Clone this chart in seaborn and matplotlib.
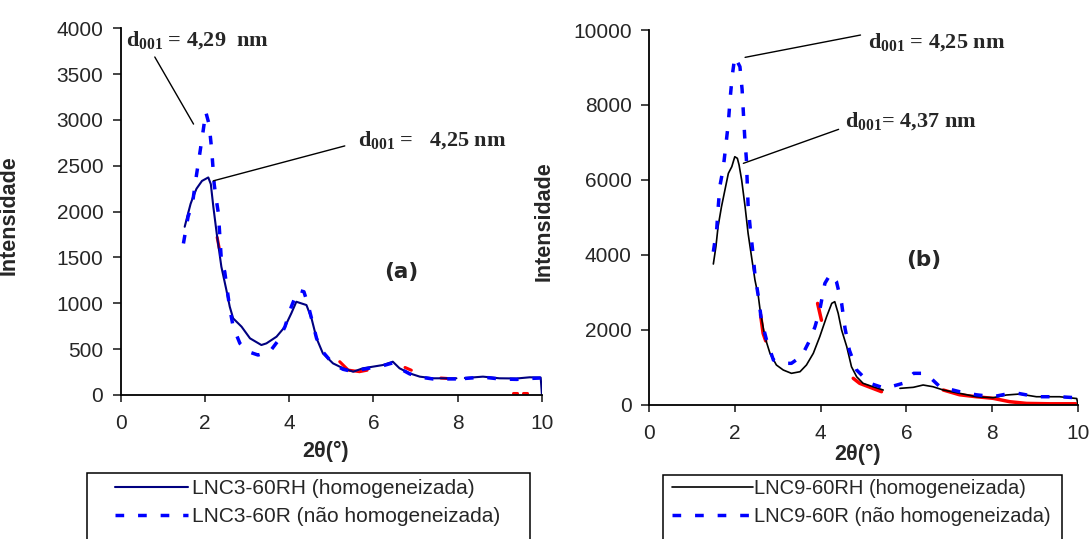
import matplotlib
matplotlib.use("Agg")
import pandas as pd
import matplotlib.pyplot as plt
from matplotlib.lines import Line2D
from matplotlib.patches import Rectangle
import seaborn as sns

# ---------------- panel (a) : LNC3 ----------------
a_rh_x = [1.52, 1.60, 1.66, 1.72, 1.80, 1.93, 2.08, 2.14, 2.20, 2.28, 2.39, 2.51, 2.59, 2.67, 2.87,
          3.07, 3.34, 3.46, 3.70, 3.90, 4.05, 4.17, 4.29, 4.41, 4.53, 4.65, 4.80, 5.04, 5.28, 5.52,
          5.75, 5.99, 6.23, 6.46, 6.62, 6.86, 7.10, 7.41, 7.97, 8.17, 8.60, 8.99, 9.40, 9.71, 9.97, 10.0]
a_rh_y = [1835, 1980, 2085, 2160, 2250, 2335, 2373, 2300, 2052, 1762, 1400, 1144, 962, 836, 745,
          618, 545, 563, 636, 745, 890, 1017, 999, 981, 836, 618, 454, 345, 291, 254,
          291, 309, 327, 363, 291, 236, 200, 182, 182, 185, 200, 182, 180, 193, 190, 0]
a_rh_seg = [0] * 39 + [1] * 7

a_r_x = [1.49, 1.60, 1.71, 1.80, 1.88, 1.96, 2.02, 2.10, 2.16, 2.22, 2.26, 2.32, 2.39, 2.47, 2.52,
         2.59, 2.67, 2.83, 3.03, 3.26, 3.54, 3.75, 3.90, 4.05, 4.21, 4.35, 4.45, 4.53, 4.65, 4.80,
         5.04, 5.28, 5.52, 5.75, 5.99, 6.23, 6.46, 6.62, 6.86, 7.10, 7.41, 7.97, 8.17, 8.60, 8.99,
         9.40, 9.71, 9.97]
a_r_y = [1653, 1944, 2107, 2400, 2641, 2888, 3088, 2950, 2678, 2300, 2161, 1980, 1471, 1344, 1180,
         944, 745, 563, 472, 436, 472, 600, 745, 962, 1144, 1126, 981, 836, 618, 470,
         340, 280, 254, 280, 300, 320, 350, 290, 230, 195, 175, 175, 180, 195, 175,
         170, 180, 185]
a_r_seg = [0] * 42 + [1] * 6

# third (red) trace, only the fragments that show
a_red_x = [2.29, 2.34, 5.20, 5.40, 5.67, 5.85, 6.75, 6.90, 7.60, 7.75, 9.32, 9.40, 9.56, 9.64]
a_red_y = [1720, 1600, 363, 272, 254, 270, 300, 270, 185, 180, 25, 25, 25, 25]
a_red_seg = [0, 0, 1, 1, 1, 1, 2, 2, 3, 3, 4, 4, 5, 5]

# ---------------- panel (b) : LNC9 ----------------
b_rh_x = [1.50, 1.56, 1.61, 1.69, 1.77, 1.85, 1.93, 2.00, 2.06, 2.10, 2.16, 2.24, 2.31, 2.39, 2.47,
          2.55, 2.59, 2.70, 2.82, 2.97, 3.13, 3.32, 3.52, 3.67, 3.83, 3.98, 4.14, 4.26, 4.33, 4.41,
          4.49, 4.61, 4.72, 4.84, 4.99, 5.22, 5.46, 5.85, 6.16, 6.39, 6.62, 6.86, 7.24, 7.63, 8.02,
          8.33, 8.64, 9.03, 9.57, 9.97, 10.0]
b_rh_y = [3752, 4214, 4748, 5282, 5728, 6173, 6350, 6617, 6574, 6395, 5995, 5282, 4571, 3947, 3324,
          2879, 2523, 1810, 1367, 1055, 921, 833, 876, 1055, 1367, 1810, 2345, 2702, 2746, 2435,
          1989, 1543, 1009, 742, 566, 475, 387, 432, 459, 521, 475, 387, 299, 208, 182,
          254, 280, 208, 208, 160, 0]
b_rh_seg = [0] * 37 + [1] * 14

b_r_x = [1.50, 1.58, 1.61, 1.65, 1.73, 1.79, 1.85, 1.89, 1.94, 2.00, 2.12, 2.17, 2.20, 2.23, 2.27,
         2.29, 2.31, 2.36, 2.42, 2.47, 2.55, 2.62, 2.74, 2.90, 3.09, 3.32, 3.56, 3.75, 3.87, 3.98,
         4.10, 4.23, 4.37, 4.49, 4.57, 4.67, 4.84, 5.15, 5.50, 5.92, 6.17, 6.45, 6.78, 7.24, 7.63,
         8.02, 8.33, 8.60, 9.03, 9.57, 9.97, 10.0]
b_r_y = [4080, 4705, 5212, 5816, 6307, 6903, 7525, 8150, 8772, 9287, 9020, 8417, 7792, 7170, 6555,
         5923, 5327, 4705, 4080, 3458, 2879, 2256, 1722, 1188, 1100, 1100, 1295, 1722, 2078, 2523,
         3236, 3485, 3279, 2702, 2034, 1455, 921, 566, 432, 566, 833, 833, 475, 342, 260,
         208, 280, 299, 208, 208, 180, 0]
b_r_seg = [0] * 52

b_red_x = [2.60, 2.66, 2.72, 3.93, 4.02, 4.76, 4.91, 5.22, 5.42, 6.86, 7.24, 7.63, 8.02, 8.41,
           8.80, 9.34, 9.72, 9.95]
b_red_y = [2400, 1900, 1700, 2700, 2250, 700, 566, 430, 342, 387, 260, 208, 165, 75,
           30, 20, 20, 20]
b_red_seg = [0, 0, 0, 1, 1, 2, 2, 2, 2, 3, 3, 3, 3, 3, 3, 3, 3, 3]

lab_a = ["LNC3-60RH (homogeneizada)", "LNC3-60R (não homogeneizada)"]
lab_b = ["LNC9-60RH (homogeneizada)", "LNC9-60R (não homogeneizada)"]

NAVY = "#000080"
BLUE = "#0000FF"
RED = "#FF0000"
DASH = (0, (2.5, 4.0))

sns.set_style("ticks")
plt.rcParams["font.family"] = ["Liberation Sans", "DejaVu Sans"]
plt.rcParams["mathtext.fontset"] = "custom"
plt.rcParams["mathtext.bf"] = "Liberation Serif:bold"
plt.rcParams["mathtext.rm"] = "Liberation Serif:bold"
plt.rcParams["mathtext.default"] = "bf"


def draw(ax, xs, ys, segs, **kw):
    df = pd.DataFrame({"x": xs, "y": ys, "seg": segs})
    sns.lineplot(data=df, x="x", y="y", units="seg", estimator=None, sort=False,
                 legend=False, ax=ax, **kw)


fig = plt.figure(figsize=(10.9, 5.39), dpi=100)
ax1 = fig.add_axes([0.1107, 0.2672, 0.3865, 0.6803])
ax2 = fig.add_axes([0.5954, 0.2495, 0.3936, 0.6948])

draw(ax1, a_red_x, a_red_y, a_red_seg, color=RED, linewidth=2.2, zorder=1)
draw(ax1, a_rh_x, a_rh_y, a_rh_seg, color=NAVY, linewidth=1.5, zorder=2)
draw(ax1, a_r_x, a_r_y, a_r_seg, color=BLUE, linewidth=2.5, linestyle=DASH, zorder=3)

draw(ax2, b_red_x, b_red_y, b_red_seg, color=RED, linewidth=2.5, zorder=1)
draw(ax2, b_rh_x, b_rh_y, b_rh_seg, color="black", linewidth=1.2, zorder=2)
draw(ax2, b_r_x, b_r_y, b_r_seg, color=BLUE, linewidth=2.5, linestyle=DASH, zorder=3)

for ax, ymax, ystep in [(ax1, 4000, 500), (ax2, 10000, 2000)]:
    ax.set_xlim(0, 10)
    ax.set_ylim(0, ymax)
    ax.set_xticks(range(0, 11, 2))
    ax.set_yticks(range(0, ymax + 1, ystep))
    sns.despine(ax=ax)
    for s in ["left", "bottom"]:
        ax.spines[s].set_linewidth(1.3)
        ax.spines[s].set_color("black")
    ax.tick_params(axis="y", direction="out", length=5.5, width=1.2, pad=7, labelsize=15)
    ax.tick_params(axis="x", direction="out", length=5, width=1.2, pad=9, labelsize=15)
    ax.set_xlabel("2θ(°)", fontsize=15.5, fontweight="bold")
    ax.set_ylabel("Intensidade", fontsize=15.5, fontweight="bold")

ax1.xaxis.set_label_coords(0.487, -0.125)
ax2.xaxis.set_label_coords(0.485, -0.105)
ax1.yaxis.set_label_coords(-0.239, 0.49)
ax2.yaxis.set_label_coords(-0.221, 0.49)
ax1.xaxis.label.set_va("top")
ax2.xaxis.label.set_va("top")

# annotations
line_kw = dict(arrowstyle="-", color="black", lw=1.0, shrinkA=0, shrinkB=0)
txt_kw = dict(fontsize=16, fontweight="bold", family="Liberation Serif", va="center", ha="left")

ax1.annotate("", xy=(1.73, 2955), xytext=(0.81, 3687), arrowprops=line_kw)
ax1.text(0.12, 3869, r"$d_{001}$ = 4,29  nm", **txt_kw)
ax1.annotate("", xy=(2.20, 2336), xytext=(5.32, 2717), arrowprops=line_kw)
ax1.text(5.63, 2779, r"$d_{001}$ =   4,25 nm", **txt_kw)
ax1.text(6.67, 1340, "(a)", fontsize=15.5, fontweight="bold", family="DejaVu Sans",
         ha="center", va="center")

ax2.annotate("", xy=(2.24, 9270), xytext=(4.93, 9866), arrowprops=line_kw)
ax2.text(5.11, 9680, r"$d_{001}$ = 4,25 nm", **txt_kw)
ax2.annotate("", xy=(2.20, 6440), xytext=(4.42, 7348), arrowprops=line_kw)
ax2.text(4.56, 7570, r"$d_{001}$= 4,37 nm", **txt_kw)
ax2.text(6.40, 3872, "(b)", fontsize=15.5, fontweight="bold", family="DejaVu Sans",
         ha="center", va="center")

# legends below each panel, framed box running off the bottom edge
W, H = 1090.0, 539.0
for ax, labels, solid_col, solid_lw, box, anchor, hl, htp, fs in [
    (ax1, lab_a, NAVY, 1.5, (87, 473.3, 443), (114.7, 479), 3.5, 0.2, 15),
    (ax2, lab_b, "black", 1.2, (663, 475, 399), (672, 479), 4.0, 0.08, 14.5),
]:
    handles = [Line2D([], [], color=solid_col, lw=solid_lw),
               Line2D([], [], color=BLUE, lw=2.5, linestyle=DASH)]
    ax.legend(handles, labels, loc="upper left",
              bbox_to_anchor=(anchor[0] / W, 1 - anchor[1] / H), bbox_transform=fig.transFigure,
              frameon=False, borderpad=0, borderaxespad=0, handlelength=hl,
              handletextpad=htp, labelspacing=0.45, fontsize=fs)
    fig.add_artist(Rectangle((box[0] / W, -0.05), box[2] / W, 1 - box[1] / H + 0.05,
                             transform=fig.transFigure, fill=False, ec="black", lw=1.1))

fig.savefig("out.png", dpi=100, facecolor="white")
